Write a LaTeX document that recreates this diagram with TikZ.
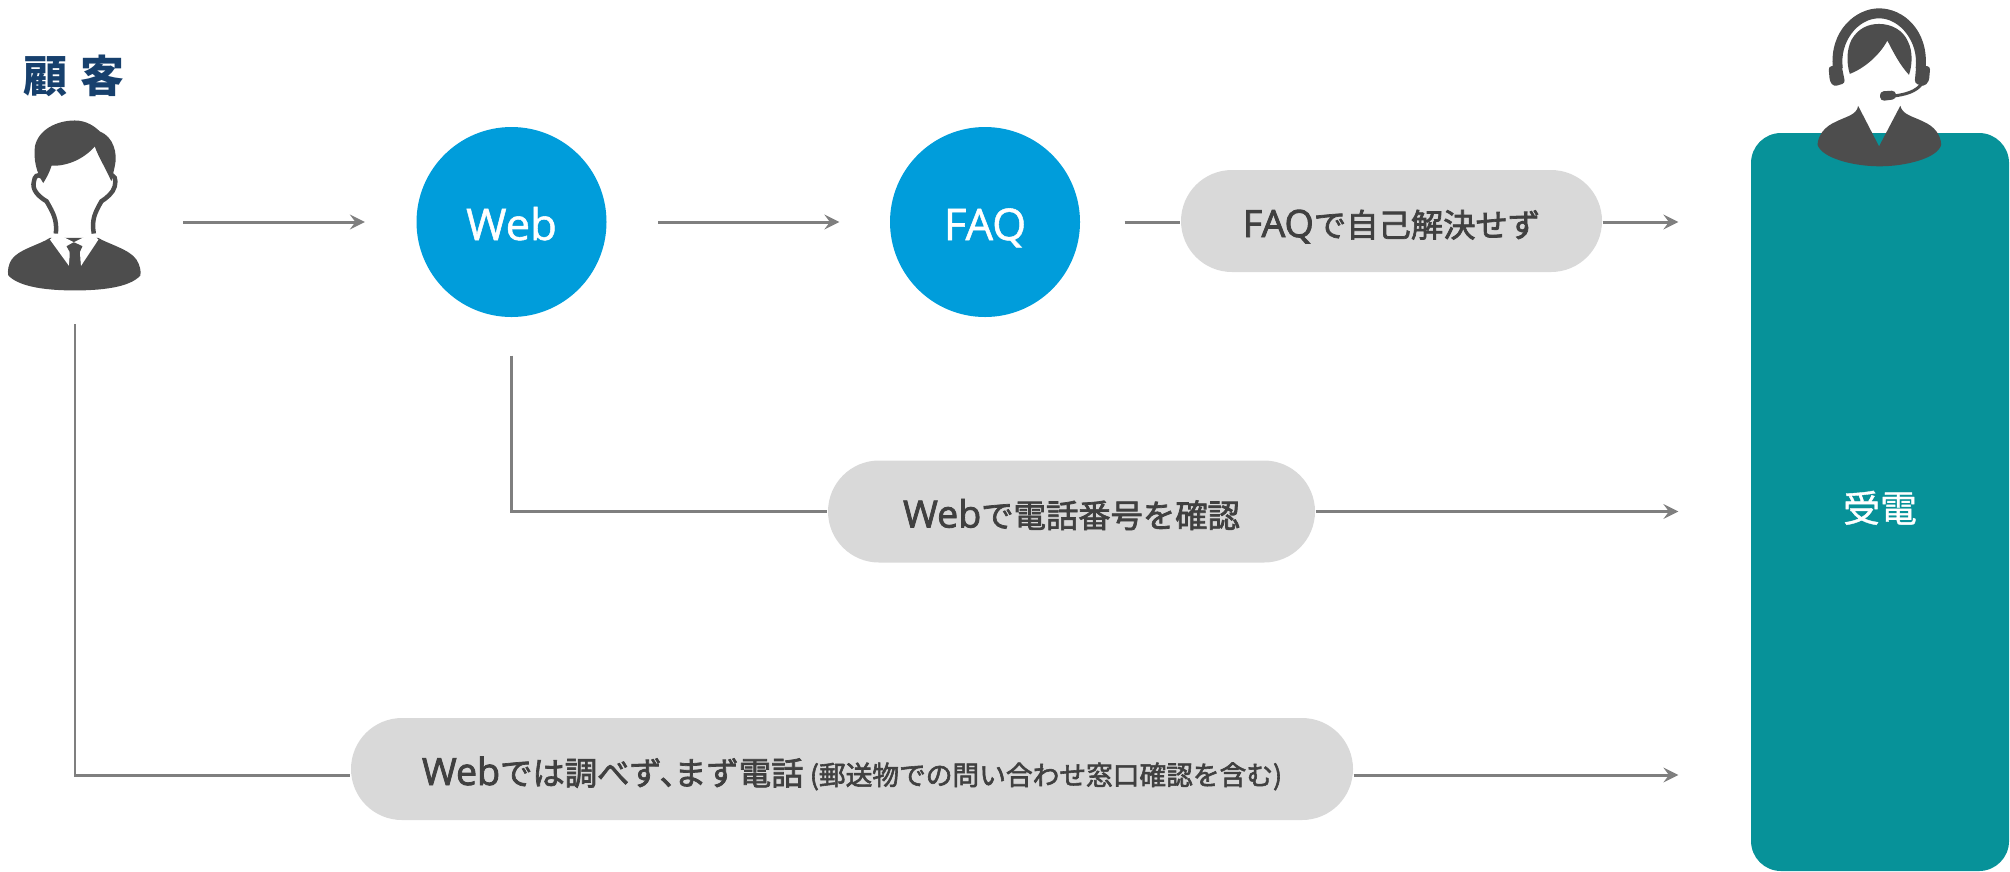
\documentclass[tikz,border=0pt]{standalone}
\usepackage{fontspec}
\setmainfont[FakeBold=2.2]{Noto Sans CJK JP}
\newfontfamily\titlefont{Noto Sans CJK JP}
\newfontfamily\plainfont[FakeBold=1]{Noto Sans CJK JP}
\newfontfamily\latinfont[FakeBold=2.2]{Open Sans}
\newfontfamily\hubfont[FakeBold=1.2]{Open Sans}
\newcommand{\lat}[1]{{\latinfont\fontsize{10.7}{12}\selectfont #1}}
\usepackage{tikz}
\usetikzlibrary{shapes.misc, arrows}
\definecolor{hubblue}{HTML}{009DDB}
\definecolor{recvteal}{HTML}{079299}
\definecolor{pillgray}{HTML}{D9D9D9}
\definecolor{linegray}{HTML}{7F7F7F}
\definecolor{textgray}{HTML}{404040}
\definecolor{icongray}{HTML}{4D4D4D}
\definecolor{titlenavy}{HTML}{17406D}
\tikzstyle{hub} = [circle, minimum size=1.9cm, inner sep=0pt, text height=0.40cm, text depth=0.04cm, fill=hubblue, text=white, font=\hubfont\fontsize{12.4}{14}\selectfont]
\tikzstyle{pill} = [rounded rectangle, minimum height=1.02cm, inner sep=0pt, text height=0.36cm, text depth=0.04cm, fill=pillgray, text=textgray, font=\fontsize{9.2}{12}\selectfont]
\tikzstyle{recvbox} = [rectangle, rounded corners=0.3cm, minimum width=2.58cm, minimum height=7.38cm, inner sep=0pt, text height=0.44cm, text depth=0.04cm, fill=recvteal, text=white, font=\plainfont\fontsize{10.5}{12}\selectfont]
\tikzstyle{arrow} = [linegray, line width=0.85pt, ->, >=stealth]
\tikzstyle{link} = [linegray, line width=0.85pt]
\tikzstyle{icon} = [x=0.003333cm, y=-0.003333cm]

\begin{document}
\begin{tikzpicture}
        \useasboundingbox (0,0) rectangle (20.1,-8.71);

        \node (recv) [recvbox] at (18.80,-5.02) {受電};
        \node (web) [hub] at (5.115,-2.22) {Web};
        \node (faq) [hub] at (9.85,-2.22) {FAQ};
        \node (faqpill) [pill, minimum width=4.21cm] at (13.915,-2.21) {\lat{FAQ}で自己解決せず};
        \node (webpill) [pill, minimum width=4.87cm] at (10.715,-5.115) {\lat{Web}で電話番号を確認};
        \node (callpill) [pill, minimum width=10.02cm] at (8.52,-7.69) {\lat{Web}では調べず、\kern-0.55em まず電話\kern0.2em{\fontsize{7.6}{12}\selectfont (郵送物での問い合わせ窓口確認を含む)}};
        \node (title) [text=titlenavy, font=\fontsize{12.5}{14}\selectfont\titlefont\bfseries] at (0.74,-0.76) {顧\kern0.3em 客};
        \coordinate (custright) at (1.83,-2.22);
        \coordinate (custdown) at (0.75,-3.24);
        \coordinate (callrow) at (0.75,-7.75);

        \draw [arrow, shorten >=0.51cm] (custright) -- (web.west);
        \draw [arrow, shorten <=0.51cm, shorten >=0.50cm] (web.east) -- (faq.west);
        \draw [link, shorten <=0.44cm] (faq.east) -- (faqpill.west |- faq.east);
        \draw [arrow, shorten >=0.72cm] (faqpill.east |- faq.east) -- (recv.west |- faq.east);
        \draw [link, shorten <=0.38cm] (web.south) |- (webpill.west);
        \draw [arrow, shorten >=0.72cm] (webpill.east) -- (recv.west |- webpill.east);
        \draw [link] (custdown) |- (callpill.west |- callrow);
        \draw [arrow, shorten >=0.72cm] (callpill.east |- callrow) -- (recv.west |- callrow);

        % customer icon
        \begin{scope}[shift={(0,-0.3)}, icon]
            \fill [icongray] (150,625) .. controls (120,645) and (55,660) .. (35,690) .. controls (25,705) and (22,725) .. (25,738) .. controls (60,775) and (150,783) .. (225,783) .. controls (300,783) and (390,775) .. (422,738) .. controls (425,725) and (420,705) .. (410,690) .. controls (390,660) and (330,645) .. (295,625) -- cycle;
            \fill [white] (150,630) -- (170,612) -- (222,638) -- (275,612) -- (296,630) -- (243,710) -- (240,660) -- (210,660) -- (208,710) -- cycle;
            \fill [icongray] (200,650) -- (222,638) -- (248,650) -- (238,672) -- (243,712) -- (207,712) -- (212,672) -- cycle;
            \draw [icongray, line width=0.045cm] (168,612) .. controls (172,570) and (160,550) .. (140,515) .. controls (115,500) and (95,480) .. (102,455) .. controls (104,440) and (112,432) .. (125,440);
            \draw [icongray, line width=0.045cm] (282,612) .. controls (275,570) and (285,550) .. (305,515) .. controls (320,505) and (340,490) .. (345,470) .. controls (350,450) and (345,432) .. (330,440);
            \fill [icongray] (130,460) .. controls (110,430) and (100,390) .. (105,350) .. controls (115,300) and (170,272) .. (225,272) .. controls (260,272) and (285,290) .. (300,305) .. controls (340,320) and (355,370) .. (345,410) .. controls (342,425) and (338,440) .. (335,455) .. controls (320,420) and (295,380) .. (285,350) .. controls (255,385) and (205,410) .. (155,408) .. controls (150,425) and (140,445) .. (130,460) -- cycle;
        \end{scope}

        % operator icon
        \begin{scope}[shift={(17.40,0)}, icon]
            \fill [icongray] (355,318) .. controls (352,345) and (320,350) .. (290,365) .. controls (255,380) and (235,405) .. (233,435) .. controls (245,475) and (340,500) .. (420,500) .. controls (500,500) and (595,475) .. (605,435) .. controls (603,405) and (585,380) .. (550,365) .. controls (520,350) and (488,345) .. (482,318) -- (418,440) -- cycle;
            \fill [icongray] (330,222) .. controls (320,190) and (320,150) .. (335,120) .. controls (355,85) and (385,72) .. (418,72) .. controls (455,72) and (490,90) .. (505,125) .. controls (520,155) and (518,195) .. (508,225) .. controls (480,195) and (460,155) .. (443,122) .. controls (420,165) and (375,205) .. (330,222) -- cycle;
            \fill [icongray] (279,205) .. controls (268,90) and (350,25) .. (418,25) .. controls (490,25) and (568,90) .. (558,205) -- (528,205) .. controls (538,125) and (480,55) .. (418,55) .. controls (355,55) and (298,125) .. (309,205) -- cycle;
            \fill [icongray, rounded corners=0.03cm] (266,200) -- (305,195) -- (316,250) -- (282,260) -- (270,245) -- cycle;
            \fill [icongray, rounded corners=0.03cm] (530,195) -- (572,200) -- (568,245) -- (552,260) -- (525,250) -- cycle;
            \draw [icongray, line width=0.03cm] (548,250) .. controls (530,275) and (500,285) .. (450,290);
            \fill [icongray, rounded corners=0.04cm] (420,275) -- (468,272) -- (470,298) -- (422,304) -- cycle;
        \end{scope}
    \end{tikzpicture}
\end{document}
